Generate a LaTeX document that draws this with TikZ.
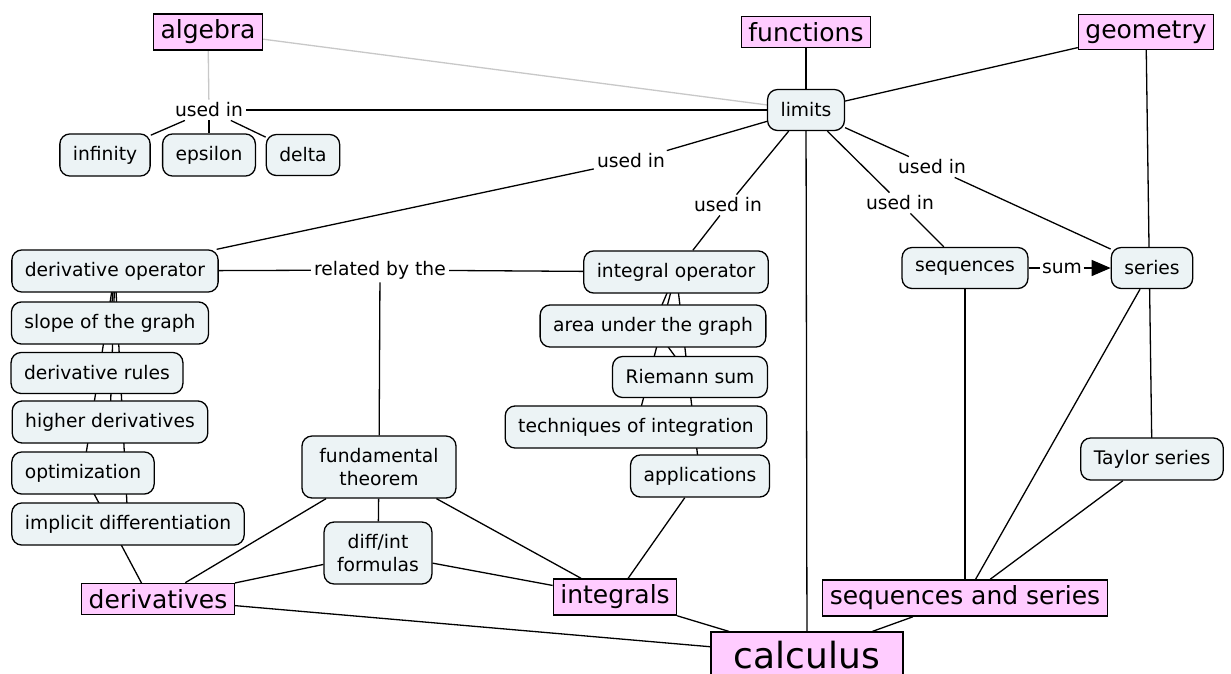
\documentclass[tikz,border=0pt]{standalone}
\usepackage{fontspec}
\setmainfont{DejaVu Sans}
\usetikzlibrary{arrows.meta}
\definecolor{conceptpink}{RGB}{255,204,255}
\definecolor{ideafill}{RGB}{236,243,245}
\definecolor{faintline}{RGB}{200,200,200}
\pgfdeclarelayer{paper}
\pgfdeclarelayer{wires}
\pgfsetlayers{paper,wires,main}
\begin{document}
\begin{tikzpicture}[x=1pt,y=-1pt,
  concept/.style={draw=black, line width=1.3pt, fill=conceptpink, inner xsep=7pt, inner ysep=6pt, font=\fontsize{25}{30}\selectfont},
  idea/.style={draw=black, line width=1.3pt, fill=ideafill, rounded corners=10pt, inner xsep=13pt, inner ysep=12pt, minimum height=41pt, align=center, font=\fontsize{18.7}{23.5}\selectfont},
  linkword/.style={inner sep=3pt, font=\fontsize{18.7}{23.5}\selectfont},
  wire/.style={line width=1.3pt, draw=black},
  faint/.style={line width=1.3pt, draw=faintline}]

\begin{pgfonlayer}{paper}
  \fill[white] (0,0) rectangle (1231,673);
\end{pgfonlayer}
\useasboundingbox (0,0) rectangle (1231,673);
\clip (0,0) rectangle (1231,673);

% top concepts
\node[concept] (algebra) at (208,32) {algebra};
\node[concept] (functions) at (806,32) {functions};
\node[concept] (geometry) at (1146,32) {geometry};

\node[idea] (limits) at (806,110) {limits};
\node[linkword] (usedA) at (209,110) {used in};
\node[idea] (infinity) at (105,155) {infinity};
\node[idea] (epsilon) at (209,155) {epsilon};
\node[idea] (delta) at (303,155) {delta};

% linking phrases below limits
\node[linkword] (usedD) at (631,161) {used in};
\node[linkword] (usedI) at (728,205) {used in};
\node[linkword] (usedS) at (900,203) {used in};
\node[linkword] (usedR) at (932,167) {used in};

% operators row
\node[idea] (dop) at (115,271) {derivative operator};
\node[linkword] (related) at (380,270) {related by the};
\node[idea] (iop) at (676,272) {integral operator};
\node[idea] (seq) at (965,268) {sequences};
\node[linkword, inner xsep=1.5pt] (sum) at (1062,268) {sum};
\node[idea] (series) at (1152,268) {series};

% derivative column
\node[idea] (slope) at (110,323) {slope of the graph};
\node[idea] (rules) at (97,373) {derivative rules};
\node[idea] (higher) at (110,422) {higher derivatives};
\node[idea] (optim) at (83,473) {optimization};
\node[idea] (implicit) at (128,524) {implicit differentiation};

% integral column
\node[idea] (area) at (653,326) {area under the graph};
\node[idea] (riemann) at (690,377) {Riemann sum};
\node[idea] (techniques) at (636,427) {techniques of integration};
\node[idea] (applications) at (700,476) {applications};

\node[idea, minimum width=154pt] (fundamental) at (379,467) {fundamental\\theorem};
\node[idea] (diffint) at (378,553) {diff/int\\formulas};
\node[idea] (taylor) at (1152,459) {Taylor series};

% bottom concepts
\node[concept] (derivatives) at (158,599) {derivatives};
\node[concept] (integrals) at (615,597) {integrals};
\node[concept] (sas) at (965,598) {sequences and series};
\node[concept, font=\fontsize{36}{40}\selectfont, minimum width=192pt, inner ysep=9pt] (calculus) at (807,655) {calculus};

\begin{pgfonlayer}{wires}
  \draw[faint] (algebra) -- (usedA);
  \draw[faint] (algebra) -- (limits);
  \draw[wire] (usedA) -- (limits);
  \draw[wire] (usedA) -- (infinity);
  \draw[wire] (usedA) -- (epsilon);
  \draw[wire] (usedA) -- (delta);

  \draw[wire] (functions) -- (limits);
  \draw[wire] (geometry) -- (limits);
  \draw[wire] (geometry.center) -- (taylor.center);
  \draw[wire] (limits) -- (calculus);

  \draw[wire] (limits) -- (usedD) -- (dop);
  \draw[wire] (limits) -- (usedI) -- (iop);
  \draw[wire] (limits) -- (usedS) -- (seq);
  \draw[wire] (limits) -- (usedR) -- (series);

  \draw[wire] (dop) -- (related) -- (iop);
  \draw[wire] (related) -- (fundamental);

  % links running behind the stacked derivative boxes
  \draw[wire] (dop.center) -- (slope.center);
  \draw[wire] (dop.center) -- (higher.center);
  \draw[wire] (dop.center) -- (implicit.center);
  \draw[wire] (dop.center) -- (optim.center);
  \draw[wire] (optim.center) -- ([xshift=-8pt]derivatives.center);

  % links running behind the stacked integral boxes
  \draw[wire] (iop.center) -- (area.center);
  \draw[wire] (iop.center) -- (techniques.center);
  \draw[wire] (iop.center) -- (applications.center);
  \draw[wire] (area.center) -- (riemann.center);
  \draw[wire] (applications) -- (integrals);

  \draw[wire] (fundamental) -- (derivatives);
  \draw[wire] (fundamental) -- (diffint);
  \draw[wire] (fundamental) -- (integrals);
  \draw[wire] (diffint) -- (derivatives);
  \draw[wire] (diffint) -- (integrals);
  \draw[wire] (derivatives) -- (calculus);
  \draw[wire] (integrals) -- (calculus);
  \draw[wire] (sas) -- (calculus);

  \draw[wire] (seq) -- (sum);
  \draw[wire, -{Triangle[length=19pt,width=16pt]}] (sum) -- (series);
  \draw[wire] (seq) -- (sas);
  \draw[wire] (series) -- (sas);
  \draw[wire] (taylor) -- (sas);
\end{pgfonlayer}
\end{tikzpicture}
\end{document}
